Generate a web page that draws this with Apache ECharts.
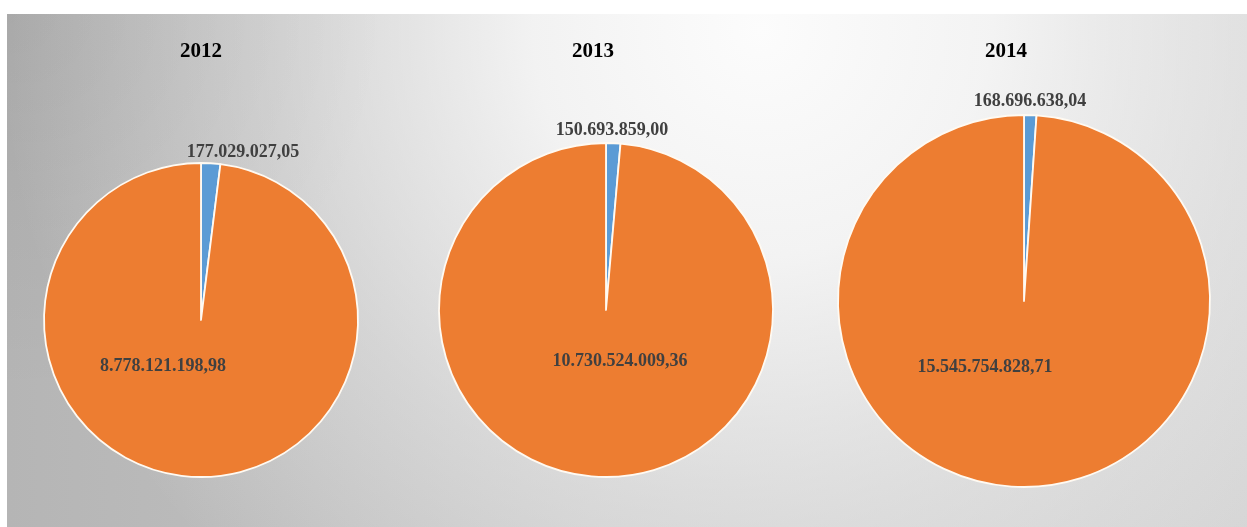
<!DOCTYPE html>
<html>
<head>
<meta charset="utf-8">
<script src="https://cdn.jsdelivr.net/npm/echarts@6/dist/echarts.min.js"></script>
<style>
html,body{margin:0;padding:0;background:#fff;}
#chart{width:1247px;height:527px;}
</style>
</head>
<body>
<div id="chart"></div>
<script>
// ---- data ----
const years = ['2012', '2013', '2014'];
const blueValues = [177029027.05, 150693859.00, 168696638.04];
const orangeValues = [8778121198.98, 10730524009.36, 15545754828.71];

// ---- layout (positions, sizes) ----
const pieCenters = [[201, 320], [606, 310], [1024, 301]];
const pieRadii = [157, 167, 186];
const titlePos = [[201, 52], [593, 52], [1006, 52]];
const blueLabelPos = [[243, 152], [612, 130], [1030, 101]];
const orangeLabelPos = [[163, 366], [620, 361], [985, 367]];

function fmt(v) {
  const parts = v.toFixed(2).split('.');
  const intPart = parts[0].replace(/\B(?=(\d{3})+(?!\d))/g, '.');
  return intPart + ',' + parts[1];
}

const chart = echarts.init(document.getElementById('chart'), null, {renderer: 'canvas'});

const series = years.map(function (y, i) {
  return {
    type: 'pie',
    center: pieCenters[i],
    radius: pieRadii[i],
    startAngle: 90,
    clockwise: true,
    animation: false,
    silent: true,
    itemStyle: {borderColor: '#fffaf2', borderWidth: 1.8},
    label: {
      show: true,
      position: 'inside',
      formatter: function (p) { return fmt(p.value); },
      fontFamily: 'Liberation Serif',
      fontWeight: 'bold',
      fontSize: 18,
      color: '#404040'
    },
    labelLine: {show: false},
    labelLayout: function (p) {
      const pos = p.dataIndex === 0 ? blueLabelPos[i] : orangeLabelPos[i];
      return {x: pos[0], y: pos[1], align: 'center', verticalAlign: 'middle'};
    },
    data: [
      {name: 'blue', value: blueValues[i], itemStyle: {color: '#5B9BD5'}},
      {name: 'orange', value: orangeValues[i], itemStyle: {color: '#ED7D31'}}
    ]
  };
});

const bgRect = {x: 7, y: 14, width: 1240, height: 513};
const graphics = [{
  type: 'rect', z: -12, silent: true,
  shape: bgRect,
  style: {
    fill: {
      type: 'linear', x: 7, y: 0, x2: 1247, y2: 0, global: true,
      colorStops: [
        {offset: 0, color: '#b5b5b5'},
        {offset: 0.5, color: '#c7c7c7'},
        {offset: 1, color: '#d3d3d3'}
      ]
    }
  }
}, {
  type: 'rect', z: -11, silent: true,
  shape: bgRect,
  style: {
    fill: {
      type: 'radial', x: 760, y: 30, r: 760, global: true,
      colorStops: [
        {offset: 0, color: 'rgba(252,252,252,1)'},
        {offset: 0.3, color: 'rgba(250,250,250,0.85)'},
        {offset: 0.65, color: 'rgba(245,245,245,0.4)'},
        {offset: 1, color: 'rgba(245,245,245,0)'}
      ]
    }
  }
}, {
  type: 'rect', z: -10, silent: true,
  shape: bgRect,
  style: {
    fill: {
      type: 'radial', x: 7, y: 14, r: 380, global: true,
      colorStops: [
        {offset: 0, color: 'rgba(0,0,0,0.07)'},
        {offset: 1, color: 'rgba(0,0,0,0)'}
      ]
    }
  }
}];
years.forEach(function (y, i) {
  graphics.push({
    type: 'text',
    x: titlePos[i][0],
    y: titlePos[i][1],
    style: {
      text: y,
      fontFamily: 'Liberation Serif',
      fontWeight: 'bold',
      fontSize: 21,
      fill: '#000000',
      align: 'center',
      verticalAlign: 'middle'
    },
    silent: true
  });
});

chart.setOption({
  backgroundColor: '#ffffff',
  animation: false,
  graphic: graphics,
  series: series
});
</script>
</body>
</html>
